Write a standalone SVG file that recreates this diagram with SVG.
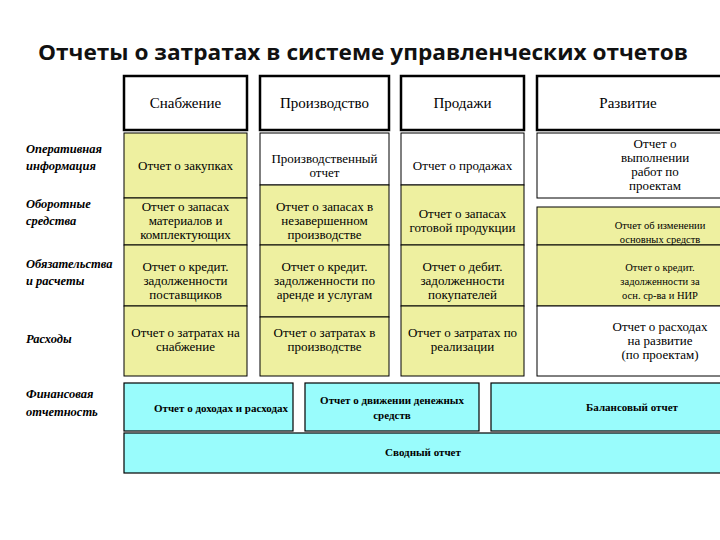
<svg xmlns="http://www.w3.org/2000/svg" width="720" height="540" viewBox="0 0 720 540">
<style>
.t{font-family:"Open Sans","Liberation Sans",sans-serif;font-weight:bold;font-size:21px;fill:#111}
.h{fill:#fff;stroke:#000;stroke-width:2.5}
.y{fill:#eef0a0;stroke:#000;stroke-width:1}
.w{fill:#fff;stroke:#000;stroke-width:1}
.c{fill:#99fcfc;stroke:#000;stroke-width:1.2}
.ht{font-family:"Liberation Serif",serif;font-size:15px;text-anchor:middle;fill:#000}
.x{font-family:"Liberation Serif",serif;font-size:13px;text-anchor:middle;fill:#000}
.s{font-family:"Liberation Serif",serif;font-size:10.5px;text-anchor:middle;fill:#000}
.b{font-family:"Liberation Serif",serif;font-size:11px;font-weight:bold;text-anchor:middle;fill:#000}
.l{font-family:"Liberation Serif",serif;font-size:12.5px;font-weight:bold;font-style:italic;fill:#000}
</style>
<rect width="720" height="540" fill="#fff"/>
<text class="t" x="38" y="60" textLength="650" lengthAdjust="spacingAndGlyphs">Отчеты о затратах в системе управленческих отчетов</text>
<g id="labels">
<text class="l" x="26" y="153">Оперативная</text><text class="l" x="26" y="170">информация</text>
<text class="l" x="26" y="208">Оборотные</text><text class="l" x="26" y="225">средства</text>
<text class="l" x="26" y="268">Обязательства</text><text class="l" x="26" y="285">и расчеты</text>
<text class="l" x="26" y="343">Расходы</text>
<text class="l" x="26" y="398">Финансовая</text><text class="l" x="26" y="416">отчетность</text>
</g>
<g id="headers">
<rect class="h" x="124" y="76" width="123" height="54"/><text class="ht" x="185.5" y="108">Снабжение</text>
<rect class="h" x="260" y="76" width="129" height="54"/><text class="ht" x="324.5" y="108">Производство</text>
<rect class="h" x="401" y="76" width="123" height="54"/><text class="ht" x="462.5" y="108">Продажи</text>
<rect class="h" x="537" y="76" width="190" height="54"/><text class="ht" x="628" y="108">Развитие</text>
</g>
<g id="col1">
<rect class="y" x="124" y="133" width="123" height="65"/><text class="x" x="185.5" y="170">Отчет о закупках</text>
<rect class="y" x="124" y="198" width="123" height="47"/><text class="x" x="185.5" y="211">Отчет о запасах</text><text class="x" x="185.5" y="225">материалов и</text><text class="x" x="185.5" y="239">комплектующих</text>
<rect class="y" x="124" y="245" width="123" height="61"/><text class="x" x="185.5" y="271">Отчет о кредит.</text><text class="x" x="185.5" y="285">задолженности</text><text class="x" x="185.5" y="299">поставщиков</text>
<rect class="y" x="124" y="306" width="123" height="70"/><text class="x" x="185.5" y="337">Отчет о затратах  на</text><text class="x" x="185.5" y="351">снабжение</text>
</g>
<g id="col2">
<rect class="w" x="260" y="133" width="129" height="52"/><text class="x" x="324.5" y="163">Производственный</text><text class="x" x="324.5" y="177">отчет</text>
<rect class="y" x="260" y="185" width="129" height="60"/><text class="x" x="324.5" y="211">Отчет о запасах в</text><text class="x" x="324.5" y="225">незавершенном</text><text class="x" x="324.5" y="239">производстве</text>
<rect class="y" x="260" y="245" width="129" height="72"/><text class="x" x="324.5" y="271">Отчет о кредит.</text><text class="x" x="324.5" y="285">задолженности по</text><text class="x" x="324.5" y="299">аренде и услугам</text>
<rect class="y" x="260" y="317" width="129" height="59"/><text class="x" x="324.5" y="337">Отчет о затратах в</text><text class="x" x="324.5" y="351">производстве</text>
</g>
<g id="col3">
<rect class="w" x="401" y="133" width="123" height="52"/><text class="x" x="462.5" y="170">Отчет о продажах</text>
<rect class="y" x="401" y="185" width="123" height="60"/><text class="x" x="462.5" y="218">Отчет о запасах</text><text class="x" x="462.5" y="232">готовой продукции</text>
<rect class="y" x="401" y="245" width="123" height="61"/><text class="x" x="462.5" y="271">Отчет о дебит.</text><text class="x" x="462.5" y="285">задолженности</text><text class="x" x="462.5" y="299">покупателей</text>
<rect class="y" x="401" y="306" width="123" height="70"/><text class="x" x="462.5" y="337">Отчет о затратах по</text><text class="x" x="462.5" y="351">реализации</text>
</g>
<g id="col4">
<rect class="w" x="537" y="133" width="190" height="65"/><text class="x" x="655" y="148">Отчет о</text><text class="x" x="655" y="162">выполнении</text><text class="x" x="655" y="176">работ по</text><text class="x" x="655" y="190">проектам</text>
<rect class="y" x="537" y="207" width="190" height="38"/><text class="s" x="660" y="229">Отчет об изменении</text><text class="s" x="660" y="243">основных средств</text>
<rect class="y" x="537" y="245" width="190" height="61"/><text class="s" x="660" y="271">Отчет о кредит.</text><text class="s" x="660" y="285">задолженности за</text><text class="s" x="660" y="299">осн. ср-ва и НИР</text>
<rect class="w" x="537" y="306" width="190" height="70"/><text class="x" x="660" y="331">Отчет о расходах</text><text class="x" x="660" y="345">на развитие</text><text class="x" x="660" y="359">(по проектам)</text>
</g>
<g id="financial">
<rect class="c" x="124" y="383" width="169" height="48"/><text class="b" x="221" y="412">Отчет о доходах и расходах</text>
<rect class="c" x="305" y="383" width="174" height="48"/><text class="b" x="392" y="404">Отчет о движении денежных</text><text class="b" x="392" y="419">средств</text>
<rect class="c" x="491" y="383" width="236" height="48"/><text class="b" x="632" y="411">Балансовый отчет</text>
<rect class="c" x="124" y="433" width="603" height="40"/><text class="b" x="423" y="456">Сводный отчет</text>
</g>
</svg>
